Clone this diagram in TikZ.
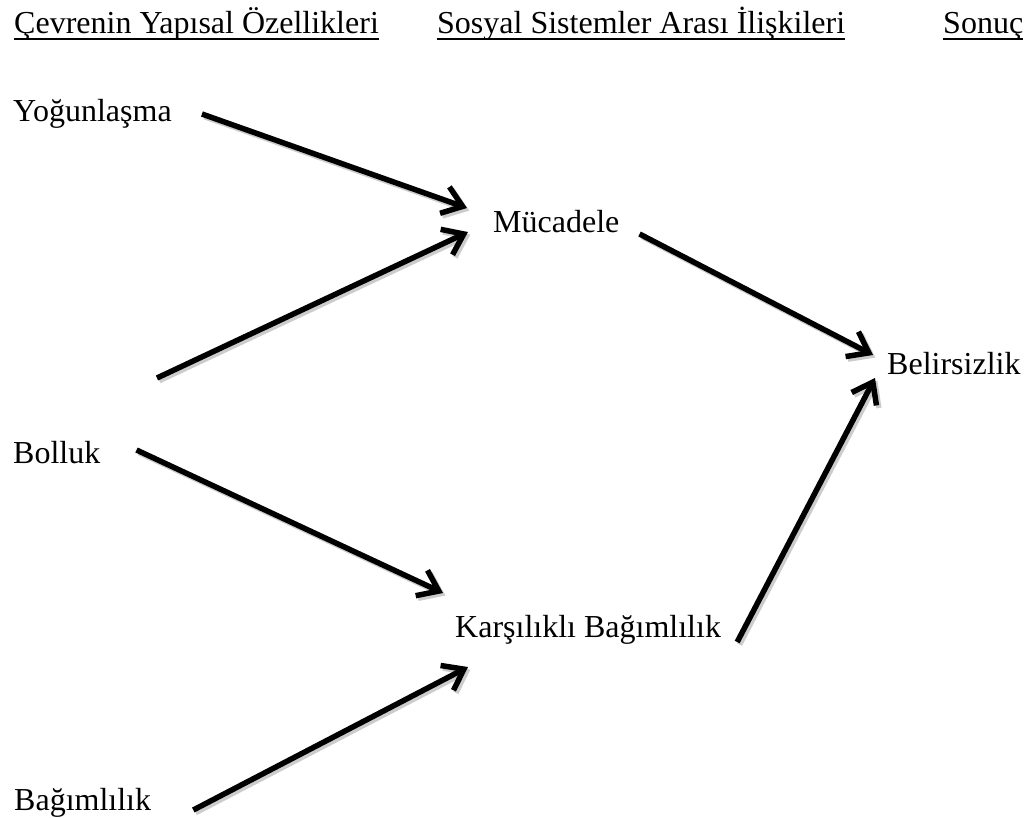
\documentclass[tikz,border=0pt]{standalone}
\usepackage{fontspec}
\setmainfont{Liberation Serif}
\usetikzlibrary{arrows.meta,calc}

\tikzset{
  lbl/.style={anchor=base west,inner sep=0pt,font=\rmfamily\fontsize{32}{38}\selectfont},
  flow/.style={line width=5.5pt,-{Straight Barb[length=19pt,width=28pt]},
    preaction={draw=gray!40,line width=5.5pt,transform canvas={shift={(2.4pt,-2.6pt)}}}},
  uline/.style={line width=2pt}
}

\begin{document}
\begin{tikzpicture}[x=1pt,y=-1pt]
\useasboundingbox (0,0) rectangle (1026,818);

\node[lbl] (h1) at (14,34) {Çevrenin Yapısal Özellikleri};
\node[lbl] (h2) at (437,34) {Sosyal Sistemler Arası İlişkileri};
\node[lbl] (h3) at (943,34) {Sonuç};
\draw[uline] ($(h1.base west)+(0,5)$) -- ($(h1.base east)+(0,5)$);
\draw[uline] ($(h2.base west)+(0,5)$) -- ($(h2.base east)+(0,5)$);
\draw[uline] ($(h3.base west)+(0,5)$) -- ($(h3.base east)+(0,5)$);

\node[lbl] (yog) at (13,122) {Yoğunlaşma};
\node[lbl] (muc) at (493,233) {Mücadele};
\node[lbl] (bel) at (887,375) {Belirsizlik};
\node[lbl] (bol) at (13,463) {Bolluk};
\node[lbl] (kar) at (455,637) {Karşılıklı Bağımlılık};
\node[lbl] (bag) at (14,810) {Bağımlılık};
\coordinate (bolup) at (157,378);

\draw[flow] ($(yog.base east)+(30,-8)$) -- ($(muc.base west)+(-26,-25)$);
\draw[flow] (bolup) -- ($(muc.base west)+(-25,-1)$);
\draw[flow] ($(muc.base east)+(20,1)$) -- ($(bel.base west)+(-14,-20)$);
\draw[flow] ($(bol.base east)+(36,-13)$) -- ($(kar.base west)+(-12,-44)$);
\draw[flow] ($(bag.base east)+(42,0)$) -- ($(kar.base west)+(13,30)$);
\draw[flow] ($(kar.base east)+(16,5)$) -- ($(bel.base west)+(-12,3)$);
\end{tikzpicture}
\end{document}
